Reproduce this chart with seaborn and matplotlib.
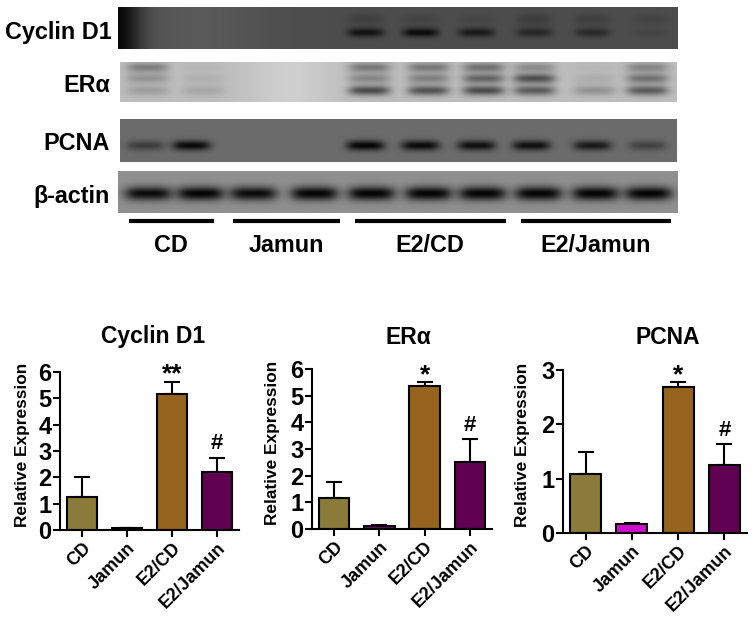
import numpy as np
import pandas as pd
import matplotlib
matplotlib.use("Agg")
import matplotlib.pyplot as plt
import seaborn as sns

# --------- DATA ----------
groups = ["CD", "Jamun", "E2/CD", "E2/Jamun"]

cyclin_mean = [1.25, 0.07, 5.17, 2.2]
cyclin_top = [2.03, 0.08, 5.63, 2.75]
era_mean = [1.15, 0.12, 5.35, 2.5]
era_top = [1.77, 0.14, 5.52, 3.37]
pcna_mean = [1.08, 0.16, 2.69, 1.25]
pcna_top = [1.5, 0.18, 2.78, 1.63]

cyclin_sig = ["", "", "**", "#"]
era_sig = ["", "", "*", "#"]
pcna_sig = ["", "", "*", "#"]

# band darkness per lane, read by eye off the blots (10 lanes)
blot_cyclin_low = [0, 0, 0, 0, 0.85, 0.95, 0.75, 0.55, 0.5, 0.12]
blot_cyclin_up = [0, 0, 0, 0, 0.3, 0.2, 0.15, 0.35, 0.3, 0.2]
blot_era_low = [0.2, 0.15, 0, 0, 0.75, 0.7, 0.75, 0.65, 0.28, 0.65]
blot_era_mid = [0.3, 0.1, 0, 0, 0.4, 0.45, 0.65, 0.8, 0.12, 0.55]
blot_era_top = [0.5, 0.05, 0, 0, 0.55, 0.55, 0.6, 0.4, 0.05, 0.45]
blot_pcna = [0.45, 0.95, 0, 0, 1.0, 0.95, 0.9, 0.9, 0.8, 0.4]
blot_actin = [0.95, 1.0, 0.95, 1.0, 1.0, 1.0, 1.0, 1.0, 1.0, 1.0]

sns.set_style("ticks")
plt.rcParams["font.family"] = ["Liberation Sans", "DejaVu Sans"]
plt.rcParams["font.weight"] = "bold"
plt.rcParams["text.color"] = "black"
plt.rcParams["axes.labelcolor"] = "black"
plt.rcParams["xtick.color"] = "black"
plt.rcParams["ytick.color"] = "black"
plt.rcParams["axes.edgecolor"] = "black"

W, H = 754, 619
fig = plt.figure(figsize=(7.54, 6.19), dpi=100, facecolor="white")


def px_axes(left, top, right, bottom):
    return fig.add_axes([left / W, 1 - bottom / H, (right - left) / W, (bottom - top) / H])


# --------- WESTERN BLOTS ----------
lanes_era = np.array([147, 203, 254, 314, 369, 428, 483, 534, 594, 647])
lanes_cyc = np.array([150, 200, 254, 314, 365, 420, 476, 534, 592, 650])
lanes_pcna = np.array([145, 191, 254, 314, 365, 420, 476, 531, 592, 647])
lanes_actin = np.array([148, 200, 253, 314, 371, 428, 482, 538, 595, 648])


def draw_blot(box, base, layers, lanes, half_w=21, shade=None):
    left, top, right, bottom = box
    xx, yy = np.meshgrid(np.arange(left, right), np.arange(top, bottom))
    img = np.full(xx.shape, base, dtype=float)
    if shade is not None:
        img = img + shade(xx)
    for vals, y_c, half_h, floor in layers:
        for xc, v in zip(lanes, vals):
            band = np.exp(-((xx - xc) / half_w) ** 4) * np.exp(-((yy - y_c) / half_h) ** 2)
            img = img - v * band * (img - floor)
    ax = px_axes(left, top, right, bottom)
    sns.heatmap(img, cmap="gray", vmin=0, vmax=1, cbar=False,
                xticklabels=False, yticklabels=False, ax=ax)


draw_blot((118, 7, 678, 49), 0.30,
          [(blot_cyclin_up, 19, 6, 0.12), (blot_cyclin_low, 32, 4.5, 0.03)], lanes_cyc, half_w=18,
          shade=lambda x: -0.27 * np.exp(-((x - 118) / 22.0) ** 2) + 0.05 * np.exp(-((x - 200) / 60.0) ** 2))
draw_blot((120, 62, 677, 102), 0.74,
          [(blot_era_top, 67, 5, 0.25), (blot_era_mid, 78, 5, 0.2), (blot_era_low, 90, 5, 0.15)], lanes_era, half_w=21,
          shade=lambda x: 0.07 * np.exp(-((x - 290) / 40.0) ** 2))
draw_blot((120, 119, 677, 162), 0.42, [(blot_pcna, 145, 5, 0.02)], lanes_pcna, half_w=19)
draw_blot((118, 171, 678, 213), 0.56, [(blot_actin, 193, 7, 0.02)], lanes_actin, half_w=24)

blot_names = ["Cyclin D1", "ER\u03b1", "PCNA", "\u03b2-actin"]
blot_y = [32, 86, 144, 196]
blot_x = [112, 110, 110, 110]
for name, x, y in zip(blot_names, blot_x, blot_y):
    fig.text(x / W, 1 - y / H, name, ha="right", va="center", fontsize=16.8, fontweight="bold")

# overlay for the group lines under the blots
over = px_axes(0, 0, W, H)
over.set_xlim(0, W)
over.set_ylim(H, 0)
over.axis("off")
over.patch.set_alpha(0)
line_x = [(129, 214), (233, 340), (355, 506), (521, 671)]
label_x = [171, 286, 430, 596]
for (a, b), lx, g in zip(line_x, label_x, groups):
    over.plot([a, b], [221, 221], color="black", lw=3, solid_capstyle="butt")
    over.text(lx, 245, g, ha="center", va="center", fontsize=16.8, fontweight="bold")


# --------- BAR CHARTS ----------
def draw_bars(box, means, tops, sig, colors, ymax, yticks, title, title_x, label_x_px):
    left, top, right, bottom = box
    ax = px_axes(left, top, right, bottom)
    df = pd.DataFrame({"group": groups, "value": means})
    errs = [t - m for t, m in zip(tops, means)]
    ax.errorbar(range(4), means, yerr=[[0] * 4, errs], fmt="none", ecolor="black",
                elinewidth=1.5, capsize=6, capthick=1.5, zorder=1)
    sns.barplot(data=df, x="group", y="value", hue="group", palette=colors, legend=False,
                width=0.67, saturation=1, edgecolor="black", linewidth=1.5, ax=ax, zorder=2)
    ax.set_xlim(-0.49, 3.49)
    ax.set_ylim(0, ymax)
    ax.set_yticks(yticks)
    ax.set_xlabel("")
    ax.set_ylabel("Relative Expression", fontsize=12.4, fontweight="bold")
    ax.yaxis.set_label_coords((label_x_px + 8 - left) / (right - left), 0.54)
    ax.tick_params(axis="y", labelsize=17, width=1.5, length=5, pad=1)
    ax.tick_params(axis="x", labelsize=13, width=1.5, length=5, pad=2)
    plt.setp(ax.get_xticklabels(), rotation=45, ha="right", rotation_mode="anchor")
    for s in ["left", "bottom"]:
        ax.spines[s].set_linewidth(1.5)
    sns.despine(ax=ax)
    for i, s in enumerate(sig):
        if s:
            size = 19 if "*" in s else 16
            ax.annotate(s, (i, tops[i]), xytext=(0, 5 if "*" in s else 10), textcoords="offset points",
                        ha="center", va="center", fontsize=size, fontweight="bold")
    fig.text(title_x / W, 1 - 337 / H, title, ha="center", va="center", fontsize=16.5, fontweight="bold")


olive = "#8B7B3A"
brown = "#96641E"
plum = "#5F0050"

draw_bars((60, 372, 239, 530), cyclin_mean, cyclin_top, cyclin_sig,
          [olive, "#6A0A6A", brown, plum], 6, range(7), "Cyclin D1", 153, 22)
draw_bars((312, 369, 492, 529), era_mean, era_top, era_sig,
          [olive, "#6A0A6A", brown, plum], 6, range(7), "ER\u03b1", 408, 272)
draw_bars((563, 370, 747, 533), pcna_mean, pcna_top, pcna_sig,
          [olive, "#CC10CC", brown, plum], 3, range(4), "PCNA", 668, 522)

fig.savefig("out.png", dpi=100, facecolor="white")
